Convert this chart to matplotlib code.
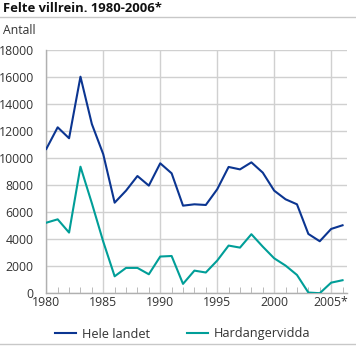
import matplotlib.pyplot as plt
from matplotlib.lines import Line2D

plt.rcParams['font.family'] = ['Open Sans', 'DejaVu Sans']

years = list(range(1980, 2007))
hele_landet = [10660, 12260, 11450, 16000, 12500, 10270, 6690, 7580, 8660, 7950,
               9600, 8860, 6470, 6570, 6520, 7680, 9330, 9150, 9670, 8910,
               7580, 6940, 6570, 4380, 3840, 4750, 5020]
hardangervidda = [5210, 5460, 4480, 9350, 6650, 3810, 1250, 1870, 1870, 1400,
                  2710, 2750, 690, 1670, 1530, 2410, 3520, 3370, 4360, 3440,
                  2580, 2040, 1350, 50, 0, 780, 960]
series_names = ['Hele landet', 'Hardangervidda']
colors = ['#0b3591', '#009e98']
xticks = [1980, 1985, 1990, 1995, 2000, 2005]
xtick_labels = ['1980', '1985', '1990', '1995', '2000', '2005*']
yticks = list(range(0, 18001, 2000))

fig = plt.figure(figsize=(3.56, 3.47), dpi=100)
ax = fig.add_axes([0.130, 0.155, 0.845, 0.702])

grid_col = '#d0d0d0'
text_col = '#333333'
ax.plot(years, hele_landet, color=colors[0], lw=1.5, zorder=3)
ax.plot(years, hardangervidda, color=colors[1], lw=1.5, zorder=3)

ax.set_xlim(1980, 2006.4)
ax.set_ylim(0, 18000)
ax.set_yticks(yticks)
ax.set_yticklabels([str(v) for v in yticks])
ax.set_xticks(xticks)
ax.set_xticklabels(xtick_labels)
ax.set_xticks(years, minor=True)

ax.grid(True, color=grid_col, lw=1.0, zorder=0)
for s in ['top', 'right']:
    ax.spines[s].set_visible(False)
for s in ['left', 'bottom']:
    ax.spines[s].set_color('#b0b0b0')
    ax.spines[s].set_linewidth(1.0)

ax.tick_params(axis='y', length=0, pad=9, labelsize=8.8, labelcolor=text_col)
ax.tick_params(axis='x', which='both', direction='in', color='#b0b0b0',
               labelsize=8.8, labelcolor=text_col, pad=2)
ax.tick_params(axis='x', which='major', length=0)
ax.tick_params(axis='x', which='minor', length=4)

# title, unit label and divider lines
fig.text(0.008, 0.995, 'Felte villrein. 1980-2006*', fontsize=9.4, fontweight='bold',
         va='top', ha='left', color='#111111')
fig.add_artist(Line2D([0, 1], [1 - 16.5 / 347] * 2, color='#c8c8c8', lw=1.0))
fig.text(0.008, 1 - 30 / 347, 'Antall', fontsize=8.8, va='center', ha='left', color=text_col)
fig.add_artist(Line2D([0, 1], [1 - 344 / 347] * 2, color='#c8c8c8', lw=1.0))

handles = [Line2D([], [], color=c, lw=1.5) for c in colors]
fig.legend(handles, series_names, loc='center', bbox_to_anchor=(0.514, 1 - 334 / 347),
           ncol=2, frameon=False, fontsize=9.2, handlelength=1.65, columnspacing=2.9,
           handletextpad=0.45, labelcolor=text_col)

fig.savefig('out.png', dpi=100)
